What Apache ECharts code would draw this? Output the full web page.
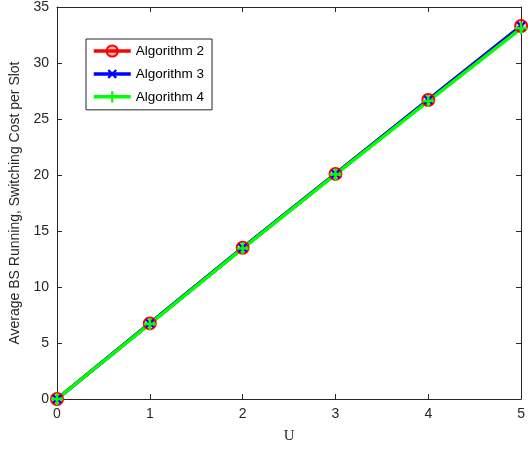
<!DOCTYPE html>
<html><head><meta charset="utf-8">
<script src="https://cdn.jsdelivr.net/npm/echarts@6/dist/echarts.min.js"></script>
<style>html,body{margin:0;padding:0;background:#fff}#c{width:528px;height:451px}</style>
</head><body><div id="c"></div>
<script>
var xValues = [0, 1, 2, 3, 4, 5];
var alg2 = [0, 6.75, 13.5, 20.1, 26.7, 33.3];
var alg3 = [0, 6.75, 13.5, 20.1, 26.7, 33.3];
var alg4 = [0, 6.7, 13.45, 20.05, 26.6, 33.1];
var seriesNames = ['Algorithm 2', 'Algorithm 3', 'Algorithm 4'];

function pts(v){ return xValues.map(function(x,i){ return [x, v[i]]; }); }
var plusPath = 'path://M4,0H6V4H10V6H6V10H4V6H0V4H4Z';
var ax = '#262626';
var chart = echarts.init(document.getElementById('c'));
function axCommon(){ return {
  axisLine:{show:true,onZero:false,lineStyle:{color:ax,width:1}},
  axisTick:{show:true,inside:true,length:5,lineStyle:{color:ax}},
  splitLine:{show:false}
};}
chart.setOption({
  animation:false,
  backgroundColor:'#fff',
  grid:{left:57,right:5,top:7,bottom:52,containLabel:false},
  legend:{
    left:86, top:39, orient:'vertical',
    backgroundColor:'#fff', borderColor:'#262626', borderWidth:1,
    padding:[5,8,6,6], itemGap:8, itemWidth:37, itemHeight:14,
    lineStyle:{width:3.5},
    textStyle:{fontFamily:'Liberation Sans, Arial',fontSize:13.5,color:'#000'},
    data: seriesNames
  },
  xAxis:[
    Object.assign({type:'value',min:0,max:5,interval:1,position:'bottom',
      name:'U',nameLocation:'middle',nameGap:30,
      nameTextStyle:{fontFamily:'Liberation Serif, Times New Roman',fontSize:15,color:ax},
      axisLabel:{fontFamily:'Liberation Sans, Arial',fontSize:14,color:ax,margin:8}}, axCommon()),
    Object.assign({type:'value',min:0,max:5,interval:1,position:'top',axisLabel:{show:false}}, axCommon())
  ],
  yAxis:[
    Object.assign({type:'value',min:0,max:35,interval:5,position:'left',
      name:'Average BS Running, Switching Cost per Slot',nameLocation:'middle',nameGap:32,
      nameTextStyle:{fontFamily:'Liberation Sans, Arial',fontSize:14,color:ax},
      axisLabel:{fontFamily:'Liberation Sans, Arial',fontSize:14,color:ax,margin:8}}, axCommon()),
    Object.assign({type:'value',min:0,max:35,interval:5,position:'right',axisLabel:{show:false}}, axCommon())
  ],
  series:[
    {name:seriesNames[0],type:'line',data:pts(alg2),symbol:'circle',symbolSize:12,
     lineStyle:{color:'#ff0000',width:3.5},
     itemStyle:{color:'rgba(255,0,0,0.25)',borderColor:'#ff0000',borderWidth:2}},
    {name:seriesNames[1],type:'line',data:pts(alg3),symbol:plusPath,symbolSize:11,symbolRotate:45,
     lineStyle:{color:'#0000ff',width:3.5},
     itemStyle:{color:'#0000ff'}},
    {name:seriesNames[2],type:'line',data:pts(alg4),symbol:plusPath,symbolSize:12,
     lineStyle:{color:'#00ff00',width:3.5},
     itemStyle:{color:'#00ff00'}}
  ]
});
</script></body></html>
